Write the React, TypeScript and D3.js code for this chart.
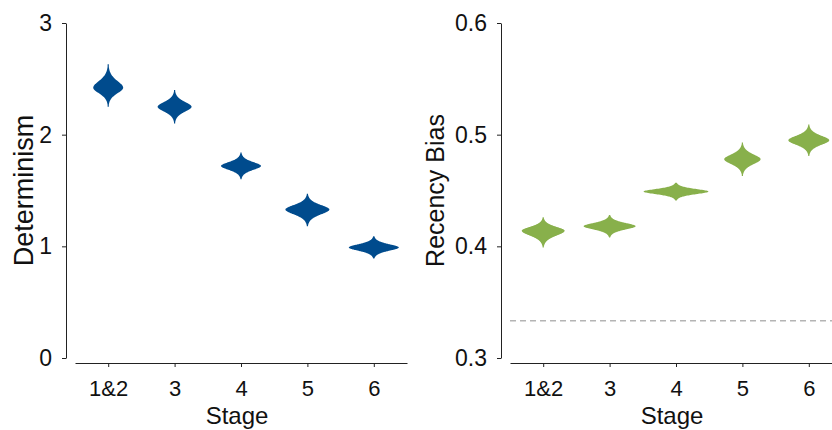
import React, { useEffect, useRef } from "react";
import * as d3 from "d3";

// stages on the x axis
const stages = ["1&2", "3", "4", "5", "6"];

// determinism posterior: median, lower tail, upper tail, relative peak density
const determinismMedian = [2.42, 2.25, 1.72, 1.33, 0.99];
const determinismLow = [2.25, 2.1, 1.6, 1.18, 0.89];
const determinismHigh = [2.63, 2.4, 1.84, 1.47, 1.09];
const determinismDensity = [0.6, 0.68, 0.8, 0.88, 1.0];
const determinismTicks = [0, 1, 2, 3];

// recency bias posterior
const recencyMedian = [0.414, 0.418, 0.449, 0.478, 0.495];
const recencyLow = [0.399, 0.408, 0.441, 0.463, 0.481];
const recencyHigh = [0.426, 0.428, 0.457, 0.493, 0.509];
const recencyDensity = [0.66, 0.8, 1.0, 0.56, 0.63];
const recencyTicks = [0.3, 0.4, 0.5, 0.6];
const chanceLevel = 1 / 3;

const FONT = "'Liberation Sans', Arial, Helvetica, sans-serif";

// half-width profile of a violin, rounded body and thin tapering tails
function violinProfile(med, lo, hi, n = 90) {
    const pts = d3.range(n + 1).map(i => lo + (hi - lo) * i / n);
    return pts.map(v => {
        const D = v >= med ? hi - med : med - lo;
        const c = 0.5 * D;
        const b = (Math.sqrt(c * c + D * D) - c) / 3.8;
        const d = Math.abs(v - med);
        return { v, f: Math.exp(-(Math.sqrt(c * c + d * d) - c) / b) };
    });
}

function drawPanel(g, opts) {
    const { xRange, yAxisX, yDomain, ticks, tickFormat, med, lo, hi, dens, color, maxHalfWidth, title, titleX, titleSize, chance } = opts;

    const x = d3.scalePoint().domain(stages).range(xRange).padding(0.5);
    const y = d3.scaleLinear().domain(yDomain).range([358, 23]);
    const w = d3.scaleLinear().domain([0, 1]).range([0, maxHalfWidth]);

    if (chance !== undefined) {
        g.append("line")
            .attr("x1", xRange[0]).attr("x2", xRange[1])
            .attr("y1", y(chance)).attr("y2", y(chance))
            .attr("stroke", "#b4b4b4")
            .attr("stroke-width", 1.5)
            .attr("stroke-dasharray", "6,4");
    }

    // violins
    stages.forEach((s, i) => {
        const prof = violinProfile(med[i], lo[i], hi[i]);
        const cx = x(s);
        const area = d3.area()
            .y(d => y(d.v))
            .x0(d => cx - Math.max(w(dens[i] * d.f), 0.6))
            .x1(d => cx + Math.max(w(dens[i] * d.f), 0.6))
            .curve(d3.curveBasis);
        g.append("path")
            .datum(prof)
            .attr("d", area)
            .attr("fill", color);
    });

    // x axis
    const xAxis = g.append("g")
        .attr("transform", "translate(0,363)")
        .call(d3.axisBottom(x).tickSize(4).tickSizeOuter(0).tickPadding(13));
    xAxis.attr("font-family", FONT).attr("font-size", 22);
    xAxis.selectAll("text").attr("fill", "#111");
    xAxis.selectAll("path,line").attr("stroke", "#222");

    // y axis
    const yAxis = g.append("g")
        .attr("transform", `translate(${yAxisX},0)`)
        .call(d3.axisLeft(y).tickValues(ticks).tickFormat(tickFormat).tickSize(4).tickSizeOuter(0).tickPadding(10));
    yAxis.attr("font-family", FONT).attr("font-size", 23);
    yAxis.selectAll("text").attr("fill", "#111");
    yAxis.selectAll("path,line").attr("stroke", "#222");

    // titles
    const mid = (x(stages[0]) + x(stages[stages.length - 1])) / 2;
    g.append("text")
        .attr("x", mid - 4).attr("y", 424)
        .attr("text-anchor", "middle")
        .attr("font-family", FONT).attr("font-size", 24)
        .attr("fill", "#111")
        .text("Stage");
    g.append("text")
        .attr("transform", `translate(${titleX},${(y.range()[0] + y.range()[1]) / 2}) rotate(-90)`)
        .attr("text-anchor", "middle")
        .attr("font-family", FONT).attr("font-size", titleSize)
        .attr("fill", "#111")
        .text(title);
}

export default function App() {
    const ref = useRef(null);

    useEffect(() => {
        const svg = d3.select(ref.current);
        svg.selectAll("*").remove();

        drawPanel(svg.append("g"), {
            xRange: [75, 407], yAxisX: 66, yDomain: [0, 3],
            ticks: determinismTicks, tickFormat: d3.format("d"),
            med: determinismMedian, lo: determinismLow, hi: determinismHigh, dens: determinismDensity,
            color: "#004b8d", maxHalfWidth: 25,
            title: "Determinism", titleX: 33, titleSize: 27
        });

        drawPanel(svg.append("g"), {
            xRange: [510, 842], yAxisX: 501, yDomain: [0.3, 0.6],
            ticks: recencyTicks, tickFormat: d3.format(".1f"),
            med: recencyMedian, lo: recencyLow, hi: recencyHigh, dens: recencyDensity,
            color: "#88b04b", maxHalfWidth: 32.5,
            title: "Recency Bias", titleX: 444, titleSize: 25, chance: chanceLevel
        });
    }, []);

    return (
        <svg ref={ref} width={832} height={430}
            style={{ position: "absolute", left: 0, top: 0, background: "#fff" }} />
    );
}
